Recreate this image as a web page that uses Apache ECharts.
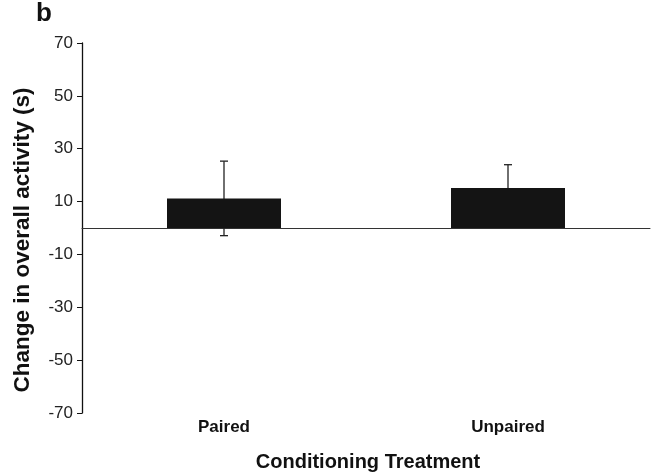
<!DOCTYPE html>
<html>
<head>
<meta charset="utf-8">
<script src="https://cdn.jsdelivr.net/npm/echarts@6/dist/echarts.min.js"></script>
<style>
html,body{margin:0;padding:0;background:#fff;}
#chart{width:651px;height:473px;}
</style>
</head>
<body>
<div id="chart"></div>
<script>
var categories = ['Paired', 'Unpaired'];
var means = [11.2, 15.1];
var errors = [14.1, 8.85];
var yTicks = [-70, -50, -30, -10, 10, 30, 50, 70];
var xTitle = 'Conditioning Treatment';
var yTitle = 'Change in overall activity (s)';
var panelLabel = 'b';

var chart = echarts.init(document.getElementById('chart'), null, {renderer: 'canvas'});
var font = '"Liberation Sans", Arial, sans-serif';

var errData = categories.map(function (c, i) {
  return [i, means[i] - errors[i], means[i] + errors[i]];
});

chart.setOption({
  animation: false,
  backgroundColor: '#fff',
  grid: {left: 82, right: 1, top: 43, bottom: 60, containLabel: false, outerBoundsMode: 'none'},
  graphic: [{
    type: 'text', left: 36, top: 1,
    style: {text: panelLabel, font: 'bold 26px ' + font, fill: '#111'}
  }, {
    type: 'text', x: 368, y: 462,
    style: {text: xTitle, font: 'bold 20px ' + font, fill: '#111', align: 'center', verticalAlign: 'middle'}
  }],
  xAxis: [{
    type: 'category',
    data: categories,
    axisLine: {onZero: true, lineStyle: {color: '#333', width: 1}},
    axisTick: {show: false},
    axisLabel: {show: false},
    splitLine: {show: false}
  }, {
    type: 'category',
    data: categories,
    position: 'bottom',
    axisLine: {show: false, onZero: false},
    axisTick: {show: false},
    axisLabel: {show: true, margin: 6, fontFamily: font, fontWeight: 'bold', fontSize: 17, color: '#111'},
    splitLine: {show: false}
  }],
  yAxis: {
    type: 'value',
    min: yTicks[0],
    max: yTicks[yTicks.length - 1],
    interval: 20,
    axisLine: {show: true, onZero: false, lineStyle: {color: '#111', width: 1.3}},
    axisTick: {show: true, length: 5, lineStyle: {color: '#111'}},
    axisLabel: {margin: 9, fontFamily: font, fontSize: 17, color: '#222'},
    splitLine: {show: false},
    name: yTitle,
    nameLocation: 'middle',
    nameGap: 48,
    nameTextStyle: {fontFamily: font, fontWeight: 'bold', fontSize: 22.5, color: '#111', padding: [0, 24, 0, 0]}
  },
  series: [{
    type: 'bar',
    data: means,
    xAxisIndex: 0,
    barWidth: 114,
    itemStyle: {color: '#141414'},
    z: 2
  }, {
    type: 'custom',
    data: errData,
    xAxisIndex: 0,
    z: 1,
    renderItem: function (params, api) {
      var x = api.coord([api.value(0), 0])[0];
      var lo = api.coord([api.value(0), api.value(1)])[1];
      var hi = api.coord([api.value(0), api.value(2)])[1];
      var half = 4;
      var st = {stroke: '#222', lineWidth: 1.3};
      return {
        type: 'group',
        children: [
          {type: 'line', shape: {x1: x, y1: lo, x2: x, y2: hi}, style: st},
          {type: 'line', shape: {x1: x - half, y1: hi, x2: x + half, y2: hi}, style: st},
          {type: 'line', shape: {x1: x - half, y1: lo, x2: x + half, y2: lo}, style: st}
        ]
      };
    }
  }]
});
</script>
</body>
</html>
